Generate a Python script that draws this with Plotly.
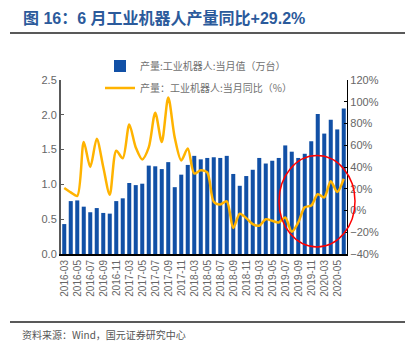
import plotly.graph_objects as go

months = []
for yr in [2016, 2017, 2018, 2019]:
    for m in range(3, 13):
        months.append(f"{yr}-{m:02d}")
for m in range(3, 7):
    months.append(f"2020-{m:02d}")

output_wan = [0.43, 0.76, 0.77, 0.68, 0.60, 0.66, 0.59, 0.58, 0.76, 0.80,
              1.02, 0.99, 1.01, 1.27, 1.26, 1.22, 1.32, 0.96, 1.14, 1.28,
              1.41, 1.36, 1.38, 1.39, 1.38, 1.41, 1.15, 0.98, 1.12, 1.21,
              1.38, 1.30, 1.34, 1.38, 1.56, 1.47, 1.38, 1.44, 1.62, 2.01,
              1.73, 1.93, 1.79, 2.09]
yoy_pct = [20.6, 16.6, 13.5, 63, 40, 66, 40, 14.5, 55, 48,
           79, 58, 47, 58, 90, 63, 104, 67, 46, 57,
           34, 37, 35, 8, 5.5, 8.5, -16, -3, -7, -12.5,
           -14, -8, -9.5, -11, -6.5, -19.5, -11, 3, 4.5, 15,
           12, 27, 17, 29.2]
tick_labels = months[::2]

name_bar = "产量:工业机器人:当月值（万台）"
name_line = "产量：工业机器人:当月同比（%）"
title_text = "图 16：6 月工业机器人产量同比+29.2%"
source_text = "资料来源：Wind，国元证券研究中心"

W, H = 413, 354
L, R, T, B = 61, 347, 80, 254
def px(x):
    return (x - L) / (R - L)
def py(y):
    return (B - y) / (B - T)

FONT = "Arial, Liberation Sans, Noto Sans CJK SC, sans-serif"

fig = go.Figure()
fig.add_trace(go.Bar(x=months, y=output_wan, name=name_bar,
                     marker=dict(color="#1150A6", line=dict(width=0)),
                     legend="legend"))
fig.add_trace(go.Scatter(x=months, y=yoy_pct, name=name_line, yaxis="y2",
                         mode="lines", line=dict(color="#FFB300", width=2.5, shape="spline", smoothing=0.8),
                         legend="legend2"))

fig.update_layout(
    width=W, height=H,
    margin=dict(l=L, r=W - R, t=T, b=H - B),
    paper_bgcolor="white", plot_bgcolor="white",
    font=dict(family=FONT, color="#666666"),
    bargap=0.38,
    showlegend=True,
    legend=dict(x=px(100), y=py(66), xanchor="left", yanchor="middle",
                bgcolor="rgba(0,0,0,0)", font=dict(size=10, color="#707070",
                family="Noto Sans CJK SC, sans-serif")),
    legend2=dict(x=px(100), y=py(88), xanchor="left", yanchor="middle",
                 bgcolor="rgba(0,0,0,0)", font=dict(size=10, color="#707070",
                 family="Noto Sans CJK SC, sans-serif")),
    xaxis=dict(type="category", tickmode="array", tickvals=tick_labels, ticktext=tick_labels,
               tickangle=-90, tickfont=dict(size=10, color="#666666"),
               showline=True, linecolor="#000000", linewidth=2,
               ticks="", showgrid=False, zeroline=False),
    yaxis=dict(range=[0, 2.5], dtick=0.5, tickformat=".1f",
               tickfont=dict(size=11, color="#666666"),
               showline=True, linecolor="#595959", linewidth=2,
               ticks="inside", ticklen=3, tickcolor="#595959",
               showgrid=False, zeroline=False),
    yaxis2=dict(range=[-40, 120], dtick=20, ticksuffix="%", overlaying="y", side="right",
                tickfont=dict(size=11, color="#666666"),
                showline=True, linecolor="#000000", linewidth=1.2,
                ticks="inside", ticklen=3, tickcolor="#000000",
                showgrid=False, zeroline=False),
)

fig.add_annotation(text="<b>" + title_text + "</b>", xref="paper", yref="paper",
                   x=px(21), y=py(18), xanchor="left", yanchor="middle", showarrow=False,
                   font=dict(size=16, color="#2B5A9B", family="Arial, Noto Sans CJK SC, sans-serif"))
fig.add_annotation(text=source_text, xref="paper", yref="paper",
                   x=px(20), y=py(334), xanchor="left", yanchor="middle", showarrow=False,
                   font=dict(size=10, color="#555555", family="Noto Sans CJK SC, sans-serif"))

fig.add_shape(type="line", xref="paper", yref="paper", x0=px(10), x1=px(405), y0=py(33), y1=py(33),
              line=dict(color="#222222", width=1.5))
fig.add_shape(type="line", xref="paper", yref="paper", x0=px(10), x1=px(405), y0=py(322), y1=py(322),
              line=dict(color="#222222", width=1.5))
fig.add_shape(type="circle", xref="paper", yref="paper", x0=px(279), x1=px(355), y0=py(247), y1=py(155.5),
              line=dict(color="#FF0000", width=1.5), layer="above")

fig.write_html("out.html")
